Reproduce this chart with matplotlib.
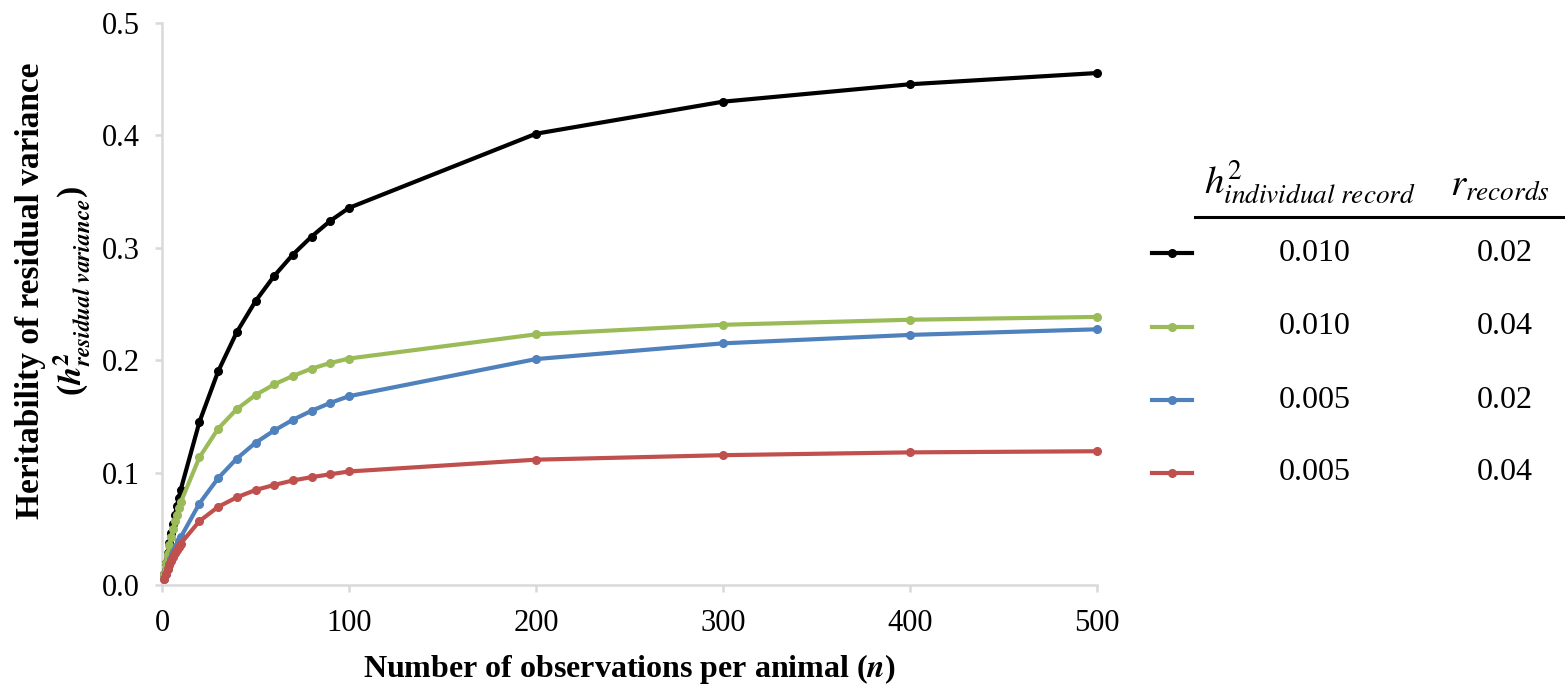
import matplotlib
matplotlib.use('Agg')
import matplotlib.pyplot as plt
from matplotlib.lines import Line2D

# Данные
n_obs = [1, 2, 3, 4, 5, 6, 7, 8, 9, 10, 20, 30, 40, 50, 60, 70, 80, 90, 100, 200, 300, 400, 500]

h2_010_r02 = [0.010, 0.0196, 0.0288, 0.0377, 0.0463, 0.0545, 0.0625, 0.0702, 0.0776, 0.0847,
              0.145, 0.190, 0.225, 0.2525, 0.275, 0.294, 0.310, 0.324, 0.3355,
              0.4015, 0.430, 0.4455, 0.4555]
h2_010_r04 = [0.010, 0.0192, 0.0278, 0.0357, 0.0431, 0.050, 0.0565, 0.0625, 0.0682, 0.0735,
              0.1135, 0.139, 0.1565, 0.169, 0.1785, 0.186, 0.1925, 0.1975, 0.2015,
              0.223, 0.2315, 0.236, 0.2385]
h2_005_r02 = [0.005, 0.0098, 0.0144, 0.0189, 0.0231, 0.0273, 0.0313, 0.0351, 0.0388, 0.0424,
              0.0725, 0.095, 0.1125, 0.1265, 0.1375, 0.147, 0.155, 0.162, 0.168,
              0.201, 0.215, 0.2225, 0.2275]
h2_005_r04 = [0.005, 0.0096, 0.0139, 0.0179, 0.0216, 0.025, 0.0282, 0.0313, 0.0341, 0.0368,
              0.0568, 0.0695, 0.078, 0.0845, 0.089, 0.093, 0.096, 0.0985, 0.101,
              0.1115, 0.1155, 0.118, 0.119]

series = [h2_010_r02, h2_010_r04, h2_005_r02, h2_005_r04]
colors = ['#000000', '#9bbb59', '#4f81bd', '#c0504d']
col_h2 = ['0.010', '0.010', '0.005', '0.005']
col_r = ['0.02', '0.04', '0.02', '0.04']

x_ticks = [0, 100, 200, 300, 400, 500]
y_ticks = [0.0, 0.1, 0.2, 0.3, 0.4, 0.5]

plt.rcParams['font.family'] = ['Liberation Serif', 'DejaVu Serif']
plt.rcParams['mathtext.fontset'] = 'stix'

W, H = 1565, 694
fig = plt.figure(figsize=(W / 100, H / 100), dpi=100)
ax = fig.add_axes([162 / W, 1 - 585 / H, (1097 - 162) / W, (585 - 23) / H])

for ys, c in zip(series, colors):
    ax.plot(n_obs, ys, color=c, lw=3.0, marker='o', ms=5.5, clip_on=False, zorder=3)

ax.set_xlim(0, 500)
ax.set_ylim(0, 0.5)
ax.set_xticks(x_ticks)
ax.set_yticks(y_ticks)
ax.set_yticklabels([f'{v:.1f}' for v in y_ticks])
ax.tick_params(axis='both', labelsize=22, color='#d9d9d9', width=1.8, length=5)
ax.tick_params(axis='x', pad=12)
ax.tick_params(axis='y', pad=11)

for s in ['top', 'right']:
    ax.spines[s].set_visible(False)
for s in ['left', 'bottom']:
    ax.spines[s].set_color('#d9d9d9')
    ax.spines[s].set_linewidth(1.8)

ax.set_xlabel(r'Number of observations per animal ($\boldsymbol{n}$)', fontsize=23,
              fontweight='bold', labelpad=10)

# подпись оси Y в две строки
fig.text(31 / W, 1 - 291 / H, 'Heritability of residual variance', rotation=90,
         ha='center', va='center', fontsize=24, fontweight='bold')
fig.text(72 / W, 1 - 291 / H,
         r'($\boldsymbol{h}^{\mathbf{2}}_{\boldsymbol{residual\ variance}}$)',
         rotation=90, ha='center', va='center', fontsize=24, fontweight='bold')

# Легенда в виде таблицы
fig.text(1310 / W, 1 - 205 / H, r'$h^2_{individual\ record}$', ha='center', va='bottom', fontsize=28)
fig.text(1500 / W, 1 - 205 / H, r'$r_{records}$', ha='center', va='bottom', fontsize=28)
fig.add_artist(Line2D([1195 / W, 1.0], [1 - 217 / H, 1 - 217 / H], color='black', lw=2.2,
                      transform=fig.transFigure))

rows_y = [253, 327, 400, 473]
for c, a, b, yy in zip(colors, col_h2, col_r, rows_y):
    yf = 1 - yy / H
    fig.add_artist(Line2D([1152 / W, 1172 / W, 1192 / W], [yf, yf, yf], color=c, lw=3.0,
                          marker='o', ms=5.5, markevery=[1], transform=fig.transFigure))
    fig.text(1315 / W, yf, a, ha='center', va='center', fontsize=23)
    fig.text(1505 / W, yf, b, ha='center', va='center', fontsize=23)

fig.savefig('out.png', dpi=100)
